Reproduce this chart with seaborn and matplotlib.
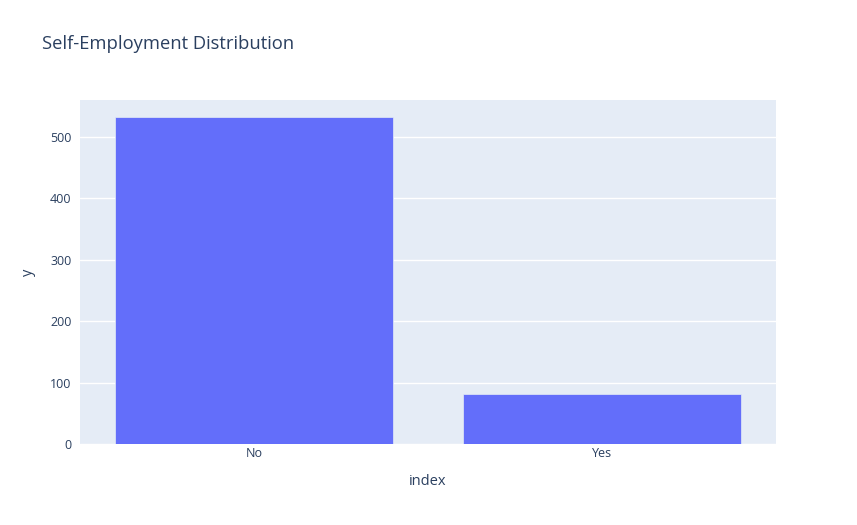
import matplotlib
matplotlib.use("Agg")
import matplotlib.pyplot as plt
import seaborn as sns
import pandas as pd

categories = ["No", "Yes"]
counts = [532, 82]

sns.set_theme(style="darkgrid")
plt.rcParams['font.family'] = ['Open Sans', 'DejaVu Sans']

df = pd.DataFrame({"index": categories, "y": counts})

fig = plt.figure(figsize=(8.57, 5.25), dpi=100)
W, H = 857, 525
ax = fig.add_axes([80 / W, (H - 444) / H, (776 - 80) / W, (444 - 100) / H])
ax.set_facecolor("#E5ECF6")

sns.barplot(data=df, x="index", y="y", ax=ax, color="#636EFA", saturation=1,
            width=0.8, edgecolor="#E5ECF6", linewidth=0.5, zorder=3)

ax.set_xlim(-0.5, 1.5)
ax.set_ylim(0, 560)
ax.set_yticks([0, 100, 200, 300, 400, 500])
ax.grid(axis="y", color="white", linewidth=1, zorder=0)
ax.grid(axis="x", visible=False)
ax.set_axisbelow(True)
for s in ax.spines.values():
    s.set_visible(False)

txt = "#2a3f5f"
ax.tick_params(axis="both", length=0, labelsize=9, colors=txt)
ax.tick_params(axis="y", pad=6)
ax.tick_params(axis="x", pad=2)
ax.set_xlabel("index", fontsize=10.5, color=txt)
ax.set_ylabel("y", fontsize=10.5, color=txt)
ax.xaxis.set_label_coords(0.5, -(474 - 444) / 344)
ax.yaxis.set_label_coords(-(80 - 36) / 696, 0.5)

fig.text(42 / W, 1 - 44 / H, "Self-Employment Distribution", fontsize=13.2,
         color=txt, ha="left", va="center")

fig.savefig("out.png", dpi=100, facecolor="white")
